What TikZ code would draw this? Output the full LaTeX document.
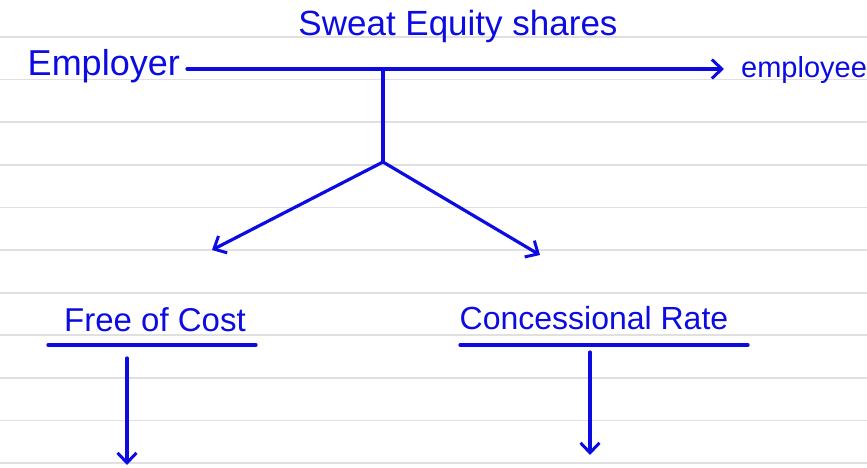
\documentclass[tikz,border=0pt]{standalone}
\usepackage{fontspec}
\setmainfont{Liberation Sans}
\usetikzlibrary{arrows.meta}
\definecolor{ink}{RGB}{12,12,226}
\definecolor{ruled}{RGB}{224,224,224}
\tikzset{
  pen/.style={draw=ink, line width=3.2pt, line cap=round},
  tip/.style={-{Straight Barb[length=10pt, width=19pt, line width=3pt]}},
  hand/.style={text=ink, inner sep=0pt},
}
\begin{document}
\begin{tikzpicture}[x=1pt, y=-1pt]
  \useasboundingbox (0,0) rectangle (867,468);
  % paper rules
  \foreach \k in {0,...,10}
    \draw[ruled, line width=1.8pt] (0,37+42.6*\k) -- (867,37+42.6*\k);

  % transfer
  \node[hand, font=\fontsize{35}{38}\selectfont] (shares) at (458,26) {Sweat Equity shares};
  \node[hand, anchor=east, font=\fontsize{36}{40}\selectfont] (employer) at (180,66) {Employer};
  \node[hand, anchor=west, font=\fontsize{29}{32}\selectfont] (employee) at (741,70) {employee};
  \draw[pen, tip, shorten <=7pt, shorten >=17pt] (employer.east |- 0,69) -- (employee.west |- 0,69);

  % split
  \coordinate (top) at (383,69);
  \coordinate (fork) at (383,162);
  \coordinate (lefttip) at (212,250);
  \coordinate (righttip) at (540,255);
  \draw[pen] (top) -- (fork);
  \draw[pen, tip] (fork) -- (lefttip);
  \draw[pen, tip] (fork) -- (righttip);

  % Free of Cost
  \node[hand, font=\fontsize{33}{36}\selectfont] (free) at (155,320) {Free of Cost};
  \draw[pen] (48,345) -- (256,345);
  \coordinate (freetop) at (127,358);
  \coordinate (freeend) at (127,465);
  \draw[pen, tip] (freetop) -- (freeend);

  % Concessional Rate
  \node[hand, font=\fontsize{32}{35}\selectfont] (concession) at (594,318) {Concessional Rate};
  \draw[pen] (460,345) -- (748,345);
  \coordinate (conctop) at (590,352);
  \coordinate (concend) at (590,455);
  \draw[pen, tip] (conctop) -- (concend);
\end{tikzpicture}
\end{document}
